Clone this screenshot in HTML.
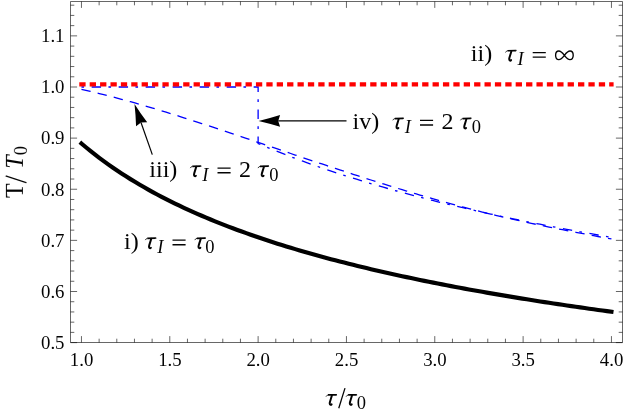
<!DOCTYPE html>
<html><head><meta charset="utf-8">
<style>
html,body{margin:0;padding:0;background:#fff;}
svg{display:block;}
text{font-family:"Liberation Serif",serif;fill:#000;}
.tk text{font-size:18.8px;}
.lb{font-size:24px;}
.it{font-style:italic;}
.sub{font-size:18.5px;}
</style></head><body>
<svg width="623" height="411" viewBox="0 0 623 411">
<rect width="623" height="411" fill="#fff"/>
<!-- curves -->
<path d="M81.46,87.00 L258.12,87.00 L258.12,143.49 L262.59,145.39 L267.06,147.26 L271.54,149.10 L276.01,150.91 L280.48,152.70 L284.95,154.45 L289.43,156.18 L293.90,157.88 L298.37,159.55 L302.84,161.20 L307.32,162.83 L311.79,164.43 L316.26,166.00 L320.73,167.56 L325.21,169.09 L329.68,170.60 L334.15,172.09 L338.62,173.56 L343.10,175.01 L347.57,176.44 L352.04,177.85 L356.51,179.24 L360.99,180.62 L365.46,181.97 L369.93,183.31 L374.40,184.63 L378.87,185.94 L383.35,187.23 L387.82,188.50 L392.29,189.76 L396.76,191.00 L401.24,192.23 L405.71,193.44 L410.18,194.63 L414.65,195.82 L419.13,196.99 L423.60,198.14 L428.07,199.29 L432.54,200.42 L437.02,201.54 L441.49,202.64 L445.96,203.73 L450.43,204.81 L454.91,205.88 L459.38,206.94 L463.85,207.99 L468.32,209.02 L472.80,210.05 L477.27,211.06 L481.74,212.06 L486.21,213.06 L490.69,214.04 L495.16,215.01 L499.63,215.97 L504.10,216.93 L508.57,217.87 L513.05,218.81 L517.52,219.73 L521.99,220.65 L526.46,221.56 L530.94,222.45 L535.41,223.35 L539.88,224.23 L544.35,225.10 L548.83,225.97 L553.30,226.82 L557.77,227.67 L562.24,228.52 L566.72,229.35 L571.19,230.18 L575.66,231.00 L580.13,231.81 L584.61,232.62 L589.08,233.41 L593.55,234.21 L598.02,234.99 L602.50,235.77 L606.97,236.54 L611.44,237.30" fill="none" stroke="#0000ff" stroke-width="1.3" stroke-dasharray="2.6 7.6 9.4 7.4"/>
<path d="M81.46,89.33 L85.91,90.34 L90.37,91.37 L94.82,92.43 L99.27,93.52 L103.73,94.62 L108.18,95.75 L112.64,96.90 L117.09,98.08 L121.54,99.27 L126.00,100.48 L130.45,101.72 L134.90,102.97 L139.36,104.23 L143.81,105.52 L148.26,106.82 L152.72,108.14 L157.17,109.48 L161.63,110.83 L166.08,112.19 L170.53,113.56 L174.99,114.95 L179.44,116.36 L183.89,117.77 L188.35,119.19 L192.80,120.63 L197.25,122.07 L201.71,123.52 L206.16,124.98 L210.61,126.45 L215.07,127.93 L219.52,129.41 L223.98,130.90 L228.43,132.39 L232.88,133.89 L237.34,135.39 L241.79,136.89 L246.24,138.40 L250.70,139.91 L255.15,141.42 L259.60,142.93 L264.06,144.44 L268.51,145.95 L272.97,147.46 L277.42,148.97 L281.87,150.48 L286.33,151.99 L290.78,153.50 L295.23,155.01 L299.69,156.51 L304.14,158.01 L308.59,159.51 L313.05,161.01 L317.50,162.50 L321.96,163.99 L326.41,165.47 L330.86,166.95 L335.32,168.42 L339.77,169.89 L344.22,171.36 L348.68,172.81 L353.13,174.26 L357.58,175.71 L362.04,177.15 L366.49,178.58 L370.94,180.00 L375.40,181.41 L379.85,182.82 L384.31,184.21 L388.76,185.60 L393.21,186.98 L397.67,188.35 L402.12,189.71 L406.57,191.05 L411.03,192.39 L415.48,193.72 L419.93,195.03 L424.39,196.33 L428.84,197.62 L433.30,198.90 L437.75,200.16 L442.20,201.41 L446.66,202.65 L451.11,203.87 L455.56,205.08 L460.02,206.28 L464.47,207.45 L468.92,208.62 L473.38,209.77 L477.83,210.90 L482.29,212.01 L486.74,213.11 L491.19,214.19 L495.65,215.26 L500.10,216.31 L504.55,217.35 L509.01,218.38 L513.46,219.39 L517.91,220.38 L522.37,221.37 L526.82,222.34 L531.27,223.30 L535.73,224.24 L540.18,225.18 L544.64,226.11 L549.09,227.02 L553.54,227.92 L558.00,228.82 L562.45,229.71 L566.90,230.58 L571.36,231.45 L575.81,232.31 L580.26,233.16 L584.72,234.01 L589.17,234.85 L593.63,235.68 L598.08,236.51 L602.53,237.33 L606.99,238.14 L611.44,238.95" fill="none" stroke="#0000ff" stroke-width="1.3" stroke-dasharray="9.4 7.2"/>
<path d="M79.3,84.30 H613.6" fill="none" stroke="#ff0000" stroke-width="4.2" stroke-dasharray="6.3 4.09"/>
<path d="M81.46,143.49 L85.91,147.25 L90.37,150.88 L94.82,154.41 L99.27,157.82 L103.73,161.13 L108.18,164.35 L112.64,167.47 L117.09,170.50 L121.54,173.45 L126.00,176.32 L130.45,179.12 L134.90,181.84 L139.36,184.49 L143.81,187.08 L148.26,189.60 L152.72,192.06 L157.17,194.46 L161.63,196.81 L166.08,199.11 L170.53,201.35 L174.99,203.54 L179.44,205.69 L183.89,207.79 L188.35,209.84 L192.80,211.85 L197.25,213.82 L201.71,215.76 L206.16,217.65 L210.61,219.51 L215.07,221.33 L219.52,223.11 L223.98,224.87 L228.43,226.59 L232.88,228.28 L237.34,229.94 L241.79,231.57 L246.24,233.17 L250.70,234.74 L255.15,236.29 L259.60,237.81 L264.06,239.30 L268.51,240.78 L272.97,242.22 L277.42,243.65 L281.87,245.05 L286.33,246.43 L290.78,247.79 L295.23,249.12 L299.69,250.44 L304.14,251.74 L308.59,253.02 L313.05,254.28 L317.50,255.52 L321.96,256.74 L326.41,257.95 L330.86,259.14 L335.32,260.31 L339.77,261.47 L344.22,262.61 L348.68,263.74 L353.13,264.85 L357.58,265.95 L362.04,267.03 L366.49,268.10 L370.94,269.15 L375.40,270.19 L379.85,271.22 L384.31,272.24 L388.76,273.24 L393.21,274.23 L397.67,275.21 L402.12,276.18 L406.57,277.13 L411.03,278.08 L415.48,279.01 L419.93,279.93 L424.39,280.85 L428.84,281.75 L433.30,282.64 L437.75,283.52 L442.20,284.39 L446.66,285.25 L451.11,286.11 L455.56,286.95 L460.02,287.79 L464.47,288.61 L468.92,289.43 L473.38,290.24 L477.83,291.04 L482.29,291.83 L486.74,292.61 L491.19,293.39 L495.65,294.16 L500.10,294.92 L504.55,295.67 L509.01,296.41 L513.46,297.15 L517.91,297.88 L522.37,298.61 L526.82,299.32 L531.27,300.03 L535.73,300.74 L540.18,301.43 L544.64,302.12 L549.09,302.81 L553.54,303.49 L558.00,304.16 L562.45,304.82 L566.90,305.48 L571.36,306.14 L575.81,306.78 L580.26,307.42 L584.72,308.06 L589.17,308.69 L593.63,309.32 L598.08,309.94 L602.53,310.55 L606.99,311.16 L611.44,311.77" fill="none" stroke="#000" stroke-width="4.15" stroke-linecap="square"/>
<!-- frame -->
<path d="M70.5,1.5 H622.5 V342.5 H70.5 Z" fill="none" stroke="#000" stroke-width="0.6"/>
<path d="M81.46,342.50 v-6.40 M81.46,1.50 v6.40 M99.13,342.50 v-3.80 M99.13,1.50 v3.80 M116.79,342.50 v-3.80 M116.79,1.50 v3.80 M134.46,342.50 v-3.80 M134.46,1.50 v3.80 M152.12,342.50 v-3.80 M152.12,1.50 v3.80 M169.79,342.50 v-6.40 M169.79,1.50 v6.40 M187.46,342.50 v-3.80 M187.46,1.50 v3.80 M205.12,342.50 v-3.80 M205.12,1.50 v3.80 M222.79,342.50 v-3.80 M222.79,1.50 v3.80 M240.45,342.50 v-3.80 M240.45,1.50 v3.80 M258.12,342.50 v-6.40 M258.12,1.50 v6.40 M275.79,342.50 v-3.80 M275.79,1.50 v3.80 M293.45,342.50 v-3.80 M293.45,1.50 v3.80 M311.12,342.50 v-3.80 M311.12,1.50 v3.80 M328.78,342.50 v-3.80 M328.78,1.50 v3.80 M346.45,342.50 v-6.40 M346.45,1.50 v6.40 M364.12,342.50 v-3.80 M364.12,1.50 v3.80 M381.78,342.50 v-3.80 M381.78,1.50 v3.80 M399.45,342.50 v-3.80 M399.45,1.50 v3.80 M417.11,342.50 v-3.80 M417.11,1.50 v3.80 M434.78,342.50 v-6.40 M434.78,1.50 v6.40 M452.45,342.50 v-3.80 M452.45,1.50 v3.80 M470.11,342.50 v-3.80 M470.11,1.50 v3.80 M487.78,342.50 v-3.80 M487.78,1.50 v3.80 M505.44,342.50 v-3.80 M505.44,1.50 v3.80 M523.11,342.50 v-6.40 M523.11,1.50 v6.40 M540.78,342.50 v-3.80 M540.78,1.50 v3.80 M558.44,342.50 v-3.80 M558.44,1.50 v3.80 M576.11,342.50 v-3.80 M576.11,1.50 v3.80 M593.77,342.50 v-3.80 M593.77,1.50 v3.80 M611.44,342.50 v-6.40 M611.44,1.50 v6.40 M70.50,342.62 h6.60 M622.50,342.62 h-6.60 M70.50,332.39 h3.80 M622.50,332.39 h-3.80 M70.50,322.17 h3.80 M622.50,322.17 h-3.80 M70.50,311.94 h3.80 M622.50,311.94 h-3.80 M70.50,301.72 h3.80 M622.50,301.72 h-3.80 M70.50,291.50 h6.60 M622.50,291.50 h-6.60 M70.50,281.27 h3.80 M622.50,281.27 h-3.80 M70.50,271.05 h3.80 M622.50,271.05 h-3.80 M70.50,260.82 h3.80 M622.50,260.82 h-3.80 M70.50,250.60 h3.80 M622.50,250.60 h-3.80 M70.50,240.37 h6.60 M622.50,240.37 h-6.60 M70.50,230.15 h3.80 M622.50,230.15 h-3.80 M70.50,219.92 h3.80 M622.50,219.92 h-3.80 M70.50,209.69 h3.80 M622.50,209.69 h-3.80 M70.50,199.47 h3.80 M622.50,199.47 h-3.80 M70.50,189.24 h6.60 M622.50,189.24 h-6.60 M70.50,179.02 h3.80 M622.50,179.02 h-3.80 M70.50,168.79 h3.80 M622.50,168.79 h-3.80 M70.50,158.57 h3.80 M622.50,158.57 h-3.80 M70.50,148.34 h3.80 M622.50,148.34 h-3.80 M70.50,138.12 h6.60 M622.50,138.12 h-6.60 M70.50,127.90 h3.80 M622.50,127.90 h-3.80 M70.50,117.67 h3.80 M622.50,117.67 h-3.80 M70.50,107.45 h3.80 M622.50,107.45 h-3.80 M70.50,97.22 h3.80 M622.50,97.22 h-3.80 M70.50,87.00 h6.60 M622.50,87.00 h-6.60 M70.50,76.77 h3.80 M622.50,76.77 h-3.80 M70.50,66.54 h3.80 M622.50,66.54 h-3.80 M70.50,56.32 h3.80 M622.50,56.32 h-3.80 M70.50,46.09 h3.80 M622.50,46.09 h-3.80 M70.50,35.87 h6.60 M622.50,35.87 h-6.60 M70.50,25.64 h3.80 M622.50,25.64 h-3.80 M70.50,15.42 h3.80 M622.50,15.42 h-3.80 M70.50,5.19 h3.80 M622.50,5.19 h-3.80" fill="none" stroke="#000" stroke-width="0.6"/>
<!-- arrows -->
<path d="M152.30,154.60 L141.00,122.49" stroke="#000" stroke-width="1.2" fill="none"/>
<path d="M134.50,104.00 Q140.40,113.32 147.20,122.32 L141.00,122.49 L136.07,126.24 Q135.73,114.96 134.50,104.00 Z" fill="#000"/>
<path d="M346.50,120.95 L278.20,120.95" stroke="#000" stroke-width="1.3" fill="none"/>
<path d="M258.60,120.95 Q269.35,118.47 280.10,115.05 L278.20,120.95 L280.10,126.85 Q269.35,123.43 258.60,120.95 Z" fill="#000"/>
<!-- annotations -->
<g class="lb" opacity="0.99">
<g class="tk">
<text x="64.5" y="348.92" text-anchor="end">0.5</text>
<text x="64.5" y="297.80" text-anchor="end">0.6</text>
<text x="64.5" y="246.67" text-anchor="end">0.7</text>
<text x="64.5" y="195.54" text-anchor="end">0.8</text>
<text x="64.5" y="144.42" text-anchor="end">0.9</text>
<text x="64.5" y="93.30" text-anchor="end">1.0</text>
<text x="64.5" y="42.17" text-anchor="end">1.1</text>
<text x="81.56" y="365.6" text-anchor="middle">1.0</text>
<text x="169.89" y="365.6" text-anchor="middle">1.5</text>
<text x="258.22" y="365.6" text-anchor="middle">2.0</text>
<text x="346.55" y="365.6" text-anchor="middle">2.5</text>
<text x="434.88" y="365.6" text-anchor="middle">3.0</text>
<text x="523.21" y="365.6" text-anchor="middle">3.5</text>
<text x="611.54" y="365.6" text-anchor="middle">4.0</text>
</g>
<text x="470.80" y="60.90">ii)</text>
<g transform="translate(505.30,60.90)" fill="none" stroke="#000" stroke-linecap="round" stroke-linejoin="round"><path d="M0.2,-8.4 Q0.8,-9.9 2.4,-10.2" stroke-width="0.8" stroke-linecap="butt"/><path d="M2.2,-10.15 L10.6,-10.3" stroke-width="1.7" stroke-linecap="butt"/><path d="M10.3,-10.3 L11.2,-10.5" stroke-width="1.3" stroke-linecap="butt"/><path d="M6.1,-9.8 C5.4,-6.6 3.9,-3.4 3.9,-1.8 C3.9,-0.1 5.2,0.05 5.8,-0.75" stroke-width="2"/></g>
<text x="517.50" y="64.90" class="it sub">I</text>
<path d="M532.70,52.55 h13.1 M532.70,57.15 h13.1" stroke="#000" stroke-width="1.35" fill="none"/>
<path d="M564.4,55.3 C566.6,52.4 568.1999999999999,51.0 570.0,51.0 C572.0,51.0 573.1999999999999,52.699999999999996 573.1999999999999,55.3 C573.1999999999999,57.9 572.0,59.599999999999994 570.0,59.599999999999994 C568.1999999999999,59.599999999999994 566.6,58.199999999999996 564.4,55.3 C562.1999999999999,52.4 560.6,51.0 558.8,51.0 C556.8,51.0 555.6,52.699999999999996 555.6,55.3 C555.6,57.9 556.8,59.599999999999994 558.8,59.599999999999994 C560.6,59.599999999999994 562.1999999999999,58.199999999999996 564.4,55.3 Z" stroke="#000" stroke-width="1.35" fill="none" stroke-linejoin="round"/>
<text x="352.50" y="128.70">iv)</text>
<g transform="translate(392.60,128.70)" fill="none" stroke="#000" stroke-linecap="round" stroke-linejoin="round"><path d="M0.2,-8.4 Q0.8,-9.9 2.4,-10.2" stroke-width="0.8" stroke-linecap="butt"/><path d="M2.2,-10.15 L10.6,-10.3" stroke-width="1.7" stroke-linecap="butt"/><path d="M10.3,-10.3 L11.2,-10.5" stroke-width="1.3" stroke-linecap="butt"/><path d="M6.1,-9.8 C5.4,-6.6 3.9,-3.4 3.9,-1.8 C3.9,-0.1 5.2,0.05 5.8,-0.75" stroke-width="2"/></g>
<text x="404.80" y="132.70" class="it sub">I</text>
<path d="M420.00,120.35 h13.1 M420.00,124.95 h13.1" stroke="#000" stroke-width="1.35" fill="none"/>
<text x="441.60" y="128.70">2</text>
<g transform="translate(460.30,128.70)" fill="none" stroke="#000" stroke-linecap="round" stroke-linejoin="round"><path d="M0.2,-8.4 Q0.8,-9.9 2.4,-10.2" stroke-width="0.8" stroke-linecap="butt"/><path d="M2.2,-10.15 L10.6,-10.3" stroke-width="1.7" stroke-linecap="butt"/><path d="M10.3,-10.3 L11.2,-10.5" stroke-width="1.3" stroke-linecap="butt"/><path d="M6.1,-9.8 C5.4,-6.6 3.9,-3.4 3.9,-1.8 C3.9,-0.1 5.2,0.05 5.8,-0.75" stroke-width="2"/></g>
<text x="471.70" y="132.70" class="sub">0</text>
<text x="149.30" y="176.50">iii)</text>
<g transform="translate(190.10,176.50)" fill="none" stroke="#000" stroke-linecap="round" stroke-linejoin="round"><path d="M0.2,-8.4 Q0.8,-9.9 2.4,-10.2" stroke-width="0.8" stroke-linecap="butt"/><path d="M2.2,-10.15 L10.6,-10.3" stroke-width="1.7" stroke-linecap="butt"/><path d="M10.3,-10.3 L11.2,-10.5" stroke-width="1.3" stroke-linecap="butt"/><path d="M6.1,-9.8 C5.4,-6.6 3.9,-3.4 3.9,-1.8 C3.9,-0.1 5.2,0.05 5.8,-0.75" stroke-width="2"/></g>
<text x="202.30" y="180.50" class="it sub">I</text>
<path d="M217.50,168.15 h13.1 M217.50,172.75 h13.1" stroke="#000" stroke-width="1.35" fill="none"/>
<text x="239.10" y="176.50">2</text>
<g transform="translate(257.80,176.50)" fill="none" stroke="#000" stroke-linecap="round" stroke-linejoin="round"><path d="M0.2,-8.4 Q0.8,-9.9 2.4,-10.2" stroke-width="0.8" stroke-linecap="butt"/><path d="M2.2,-10.15 L10.6,-10.3" stroke-width="1.7" stroke-linecap="butt"/><path d="M10.3,-10.3 L11.2,-10.5" stroke-width="1.3" stroke-linecap="butt"/><path d="M6.1,-9.8 C5.4,-6.6 3.9,-3.4 3.9,-1.8 C3.9,-0.1 5.2,0.05 5.8,-0.75" stroke-width="2"/></g>
<text x="269.20" y="180.50" class="sub">0</text>
<text x="124.00" y="248.50">i)</text>
<g transform="translate(145.10,248.50)" fill="none" stroke="#000" stroke-linecap="round" stroke-linejoin="round"><path d="M0.2,-8.4 Q0.8,-9.9 2.4,-10.2" stroke-width="0.8" stroke-linecap="butt"/><path d="M2.2,-10.15 L10.6,-10.3" stroke-width="1.7" stroke-linecap="butt"/><path d="M10.3,-10.3 L11.2,-10.5" stroke-width="1.3" stroke-linecap="butt"/><path d="M6.1,-9.8 C5.4,-6.6 3.9,-3.4 3.9,-1.8 C3.9,-0.1 5.2,0.05 5.8,-0.75" stroke-width="2"/></g>
<text x="157.30" y="252.50" class="it sub">I</text>
<path d="M172.50,240.15 h13.1 M172.50,244.75 h13.1" stroke="#000" stroke-width="1.35" fill="none"/>
<g transform="translate(194.60,248.50)" fill="none" stroke="#000" stroke-linecap="round" stroke-linejoin="round"><path d="M0.2,-8.4 Q0.8,-9.9 2.4,-10.2" stroke-width="0.8" stroke-linecap="butt"/><path d="M2.2,-10.15 L10.6,-10.3" stroke-width="1.7" stroke-linecap="butt"/><path d="M10.3,-10.3 L11.2,-10.5" stroke-width="1.3" stroke-linecap="butt"/><path d="M6.1,-9.8 C5.4,-6.6 3.9,-3.4 3.9,-1.8 C3.9,-0.1 5.2,0.05 5.8,-0.75" stroke-width="2"/></g>
<text x="205.20" y="252.50" class="sub">0</text>
<!-- x label -->
<g transform="translate(325.80,405.10)" fill="none" stroke="#000" stroke-linecap="round" stroke-linejoin="round"><path d="M0.2,-8.4 Q0.8,-9.9 2.4,-10.2" stroke-width="0.8" stroke-linecap="butt"/><path d="M2.2,-10.15 L10.6,-10.3" stroke-width="1.7" stroke-linecap="butt"/><path d="M10.3,-10.3 L11.2,-10.5" stroke-width="1.3" stroke-linecap="butt"/><path d="M6.1,-9.8 C5.4,-6.6 3.9,-3.4 3.9,-1.8 C3.9,-0.1 5.2,0.05 5.8,-0.75" stroke-width="2"/></g>
<path d="M338.75,408.3 L345.0,388.1" stroke="#000" stroke-width="1.25" fill="none"/>
<g transform="translate(345.90,405.10)" fill="none" stroke="#000" stroke-linecap="round" stroke-linejoin="round"><path d="M0.2,-8.4 Q0.8,-9.9 2.4,-10.2" stroke-width="0.8" stroke-linecap="butt"/><path d="M2.2,-10.15 L10.6,-10.3" stroke-width="1.7" stroke-linecap="butt"/><path d="M10.3,-10.3 L11.2,-10.5" stroke-width="1.3" stroke-linecap="butt"/><path d="M6.1,-9.8 C5.4,-6.6 3.9,-3.4 3.9,-1.8 C3.9,-0.1 5.2,0.05 5.8,-0.75" stroke-width="2"/></g>
<text x="356.8" y="409.1" class="sub">0</text>

<!-- y label -->
<g transform="translate(22.9,198) rotate(-90)">
<text x="0" y="0" transform="scale(1,1.075)">T</text>
<path d="M15.3,3.5 L22.1,-17.3" stroke="#000" stroke-width="1.25" fill="none"/>
<text x="29.2" y="0" class="it" transform="scale(1,1.075)">T</text>
<text x="42.8" y="3.9" class="sub">0</text>
</g>
</g>
</svg>
</body></html>
